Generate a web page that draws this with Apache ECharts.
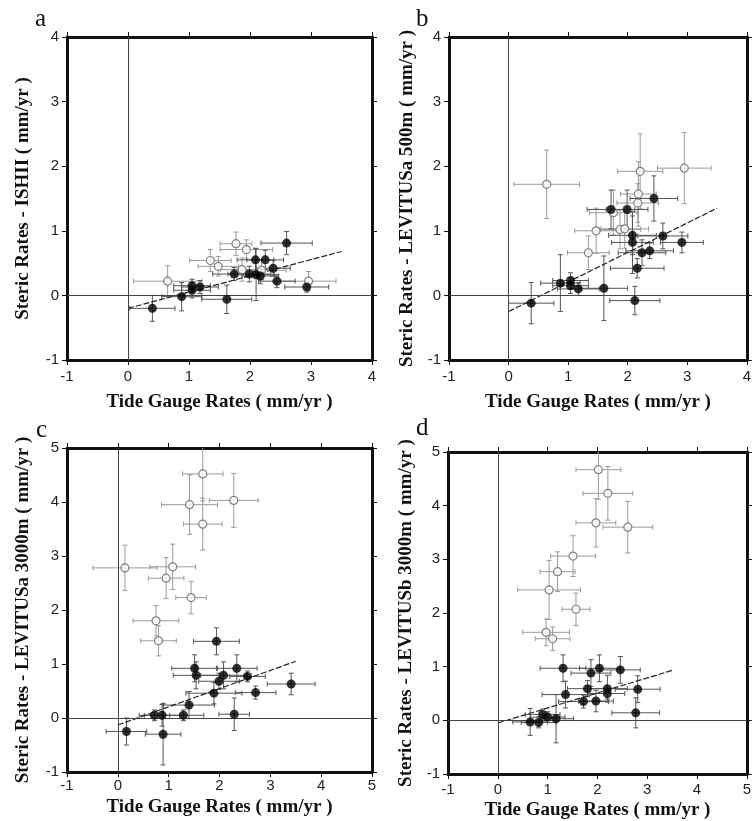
<!DOCTYPE html>
<html>
<head>
<meta charset="utf-8">
<script src="https://cdn.jsdelivr.net/npm/echarts@6/dist/echarts.min.js"></script>
<style>
html,body{margin:0;padding:0;background:#fff;}
#chart{width:754px;height:821px;}
</style>
</head>
<body>
<div id="chart"></div>
<script>
// ---------- data ----------
const panelLabels = ['a', 'b', 'c', 'd'];
const xTitle = 'Tide Gauge Rates ( mm/yr )';
const yTitles = [
  'Steric Rates - ISHII ( mm/yr )',
  'Steric Rates - LEVITUSa 500m ( mm/yr )',
  'Steric Rates - LEVITUSa 3000m ( mm/yr )',
  'Steric Rates - LEVITUSb 3000m ( mm/yr )'
];
const axisMax = [4, 4, 5, 5];
const axisMin = [-1, -1, -1, -1];

// [tide gauge rate, steric rate, x error, y error]
const aFilled = [
  [0.40,-0.20,0.37,0.20],[0.88,-0.02,0.33,0.22],[1.05,0.08,0.30,0.12],[1.05,0.15,0.30,0.10],
  [1.18,0.13,0.30,0.10],[1.62,-0.06,0.41,0.22],[1.74,0.33,0.35,0.10],[1.99,0.33,0.35,0.12],
  [2.09,0.55,0.30,0.18],[2.10,0.32,0.30,0.40],[2.17,0.30,0.30,0.12],[2.25,0.55,0.30,0.15],
  [2.38,0.42,0.28,0.12],[2.44,0.22,0.30,0.10],[2.60,0.81,0.42,0.18],[2.93,0.13,0.36,0.08]
];
const aOpen = [
  [0.65,0.22,0.56,0.24],[1.35,0.54,0.34,0.17],[1.48,0.45,0.33,0.15],[1.77,0.80,0.26,0.18],
  [1.94,0.71,0.43,0.15],[1.87,0.40,0.35,0.18],[2.19,0.39,0.40,0.15],[2.96,0.22,0.45,0.15]
];
const bFilled = [
  [0.38,-0.12,0.38,0.32],[0.87,0.19,0.33,0.44],[1.04,0.23,0.30,0.12],[1.04,0.15,0.30,0.12],
  [1.17,0.10,0.35,0.10],[1.60,0.11,0.40,0.50],[1.72,1.33,0.40,0.30],[1.99,1.33,0.35,0.30],
  [2.08,0.93,0.40,0.30],[2.08,0.82,0.35,0.48],[2.12,-0.08,0.42,0.22],[2.16,0.42,0.45,0.15],
  [2.24,0.66,0.40,0.20],[2.37,0.69,0.40,0.12],[2.44,1.50,0.40,0.35],[2.59,0.92,0.42,0.20],
  [2.91,0.82,0.36,0.16]
];
const bOpen = [
  [0.64,1.72,0.55,0.53],[1.34,0.66,0.35,0.26],[1.47,1.00,0.36,0.35],[1.76,1.28,0.40,0.35],
  [1.87,1.02,0.35,0.30],[1.95,1.03,0.40,0.30],[2.17,1.43,0.35,0.30],[2.18,1.57,0.30,0.50],
  [2.21,1.92,0.38,0.58],[2.95,1.97,0.45,0.55]
];
const cFilled = [
  [0.17,-0.25,0.40,0.25],[0.72,0.05,0.30,0.10],[0.87,0.05,0.35,0.20],[0.89,-0.30,0.35,0.57],
  [1.29,0.05,0.40,0.10],[1.40,0.24,0.50,0.25],[1.51,0.92,0.45,0.25],[1.54,0.79,0.45,0.25],
  [1.89,0.46,0.55,0.20],[1.94,1.42,0.45,0.25],[1.99,0.68,0.40,0.15],[2.08,0.79,0.45,0.25],
  [2.29,0.07,0.30,0.30],[2.34,0.92,0.40,0.25],[2.55,0.77,0.35,0.10],[2.71,0.47,0.40,0.12],
  [3.41,0.63,0.47,0.20]
];
const cOpen = [
  [0.14,2.78,0.63,0.42],[0.75,1.80,0.45,0.28],[0.80,1.43,0.35,0.28],[0.95,2.59,0.35,0.38],
  [1.08,2.80,0.45,0.42],[1.41,3.95,0.55,0.55],[1.44,2.23,0.30,0.30],[1.67,4.52,0.40,0.50],
  [1.67,3.59,0.38,0.48],[2.28,4.03,0.48,0.50]
];
const dFilled = [
  [0.65,-0.03,0.35,0.25],[0.82,-0.04,0.35,0.10],[0.90,0.11,0.35,0.10],[1.00,0.06,0.35,0.10],
  [1.17,0.03,0.35,0.45],[1.31,0.97,0.46,0.25],[1.36,0.48,0.47,0.25],[1.72,0.35,0.50,0.12],
  [1.80,0.59,0.40,0.15],[1.87,0.88,0.40,0.25],[1.97,0.36,0.35,0.20],[2.04,0.97,0.40,0.25],
  [2.20,0.59,0.40,0.25],[2.20,0.50,0.35,0.10],[2.46,0.94,0.40,0.25],[2.77,0.14,0.48,0.28],
  [2.81,0.58,0.45,0.25]
];
const dOpen = [
  [0.97,1.64,0.47,0.25],[1.10,1.52,0.35,0.22],[1.03,2.43,0.63,0.55],[1.20,2.77,0.35,0.37],
  [1.51,3.06,0.45,0.38],[1.57,2.07,0.28,0.30],[1.97,3.68,0.40,0.45],[2.02,4.67,0.45,0.55],
  [2.21,4.23,0.50,0.50],[2.61,3.60,0.50,0.48]
];
// regression lines: [start, end]
const aFit = [[0, -0.20], [3.5, 0.68]];
const bFit = [[0, -0.25], [3.5, 1.35]];
const cFit = [[0, -0.13], [3.5, 1.05]];
const dFit = [[0, -0.05], [3.5, 0.93]];

const filledSets = [aFilled, bFilled, cFilled, dFilled];
const openSets = [aOpen, bOpen, cOpen, dOpen];
const fits = [aFit, bFit, cFit, dFit];

// ---------- layout ----------
const grids = [
  {left: 67, top: 37, width: 305, height: 323},
  {left: 449, top: 37, width: 304, height: 323},
  {left: 67, top: 448, width: 305, height: 324},
  {left: 448, top: 452, width: 305, height: 322}
];
const letterPos = [[30, 2], [411, 2], [31, 413], [411, 411]];
const xLabelMargin = [9, 9, 6, 8];
const xNameGap = [33, 33, 26, 27];
const yNameGap = [34, 32, 34, 32];

const SANS = 'Liberation Sans';
const SERIF = 'Liberation Serif';
const FRAME = {color: '#111', width: 3};

const xAxes = [], yAxes = [], series = [], titles = [];

function errRender(color) {
  return function (params, api) {
    const x = api.value(0), y = api.value(1), ex = api.value(2), ey = api.value(3);
    const c = api.coord([x, y]);
    const l = api.coord([x - ex, y]), r = api.coord([x + ex, y]);
    const t = api.coord([x, y + ey]), b = api.coord([x, y - ey]);
    const cap = 2.5;
    const st = {stroke: color, lineWidth: 1};
    return {
      type: 'group',
      children: [
        {type: 'line', shape: {x1: l[0], y1: c[1], x2: r[0], y2: c[1]}, style: st},
        {type: 'line', shape: {x1: l[0], y1: c[1] - cap, x2: l[0], y2: c[1] + cap}, style: st},
        {type: 'line', shape: {x1: r[0], y1: c[1] - cap, x2: r[0], y2: c[1] + cap}, style: st},
        {type: 'line', shape: {x1: c[0], y1: t[1], x2: c[0], y2: b[1]}, style: st},
        {type: 'line', shape: {x1: c[0] - cap, y1: t[1], x2: c[0] + cap, y2: t[1]}, style: st},
        {type: 'line', shape: {x1: c[0] - cap, y1: b[1], x2: c[0] + cap, y2: b[1]}, style: st}
      ]
    };
  };
}

for (let i = 0; i < 4; i++) {
  const mn = axisMin[i], mx = axisMax[i];
  const common = {
    type: 'value', gridIndex: i, min: mn, max: mx, interval: 1,
    splitLine: {show: false},
    axisLine: {show: true, onZero: false, lineStyle: FRAME},
    axisTick: {show: true, inside: false, length: 5, lineStyle: {color: '#111', width: 1}}
  };
  xAxes.push(Object.assign({}, common, {
    position: 'bottom',
    axisLabel: {show: true, margin: xLabelMargin[i], fontFamily: SANS, fontSize: 15, color: '#222',
      formatter: v => String(v)},
    name: xTitle, nameLocation: 'middle', nameGap: xNameGap[i],
    nameTextStyle: {fontFamily: SERIF, fontWeight: 'bold', fontSize: 19, color: '#111'}
  }));
  xAxes.push(Object.assign({}, common, {position: 'top', axisLabel: {show: false}}));
  yAxes.push(Object.assign({}, common, {
    position: 'left',
    axisLabel: {show: true, margin: 8, fontFamily: SANS, fontSize: 15, color: '#222',
      formatter: v => String(v)},
    name: yTitles[i], nameLocation: 'middle', nameGap: yNameGap[i], nameRotate: 90,
    nameTextStyle: {fontFamily: SERIF, fontWeight: 'bold', fontSize: 19, color: '#111'}
  }));
  yAxes.push(Object.assign({}, common, {position: 'right', axisLabel: {show: false}}));

  const xi = 2 * i, yi = 2 * i;
  // zero lines + regression line
  series.push({
    type: 'line', xAxisIndex: xi, yAxisIndex: yi, data: fits[i],
    showSymbol: false, symbol: 'none', silent: true, z: 4,
    lineStyle: {color: '#222', width: 1.2, type: [6, 2]},
    markLine: {
      silent: true, symbol: 'none', animation: false,
      label: {show: false},
      lineStyle: {color: '#444', width: 1, type: 'solid'},
      data: [{xAxis: 0}, {yAxis: 0}]
    }
  });
  series.push({
    type: 'custom', xAxisIndex: xi, yAxisIndex: yi, data: openSets[i], clip: true, z: 2,
    encode: {x: 0, y: 1}, renderItem: errRender('#9a9a9a'), silent: true
  });
  series.push({
    type: 'custom', xAxisIndex: xi, yAxisIndex: yi, data: filledSets[i], clip: true, z: 3,
    encode: {x: 0, y: 1}, renderItem: errRender('#555'), silent: true
  });
  series.push({
    type: 'scatter', xAxisIndex: xi, yAxisIndex: yi, data: openSets[i].map(p => [p[0], p[1]]),
    symbol: 'circle', symbolSize: 8, z: 5,
    itemStyle: {color: '#fff', borderColor: '#666', borderWidth: 1.2}
  });
  series.push({
    type: 'scatter', xAxisIndex: xi, yAxisIndex: yi, data: filledSets[i].map(p => [p[0], p[1]]),
    symbol: 'circle', symbolSize: 9, z: 6,
    itemStyle: {color: '#000'}
  });
  titles.push({
    text: panelLabels[i], left: letterPos[i][0], top: letterPos[i][1],
    textStyle: {fontFamily: SERIF, fontWeight: 'normal', fontSize: 25, color: '#111'}
  });
}

const chart = echarts.init(document.getElementById('chart'), null, {renderer: 'canvas'});
chart.setOption({
  animation: false,
  backgroundColor: '#fff',
  title: titles,
  grid: grids,
  xAxis: xAxes,
  yAxis: yAxes,
  series: series
});
</script>
</body>
</html>
